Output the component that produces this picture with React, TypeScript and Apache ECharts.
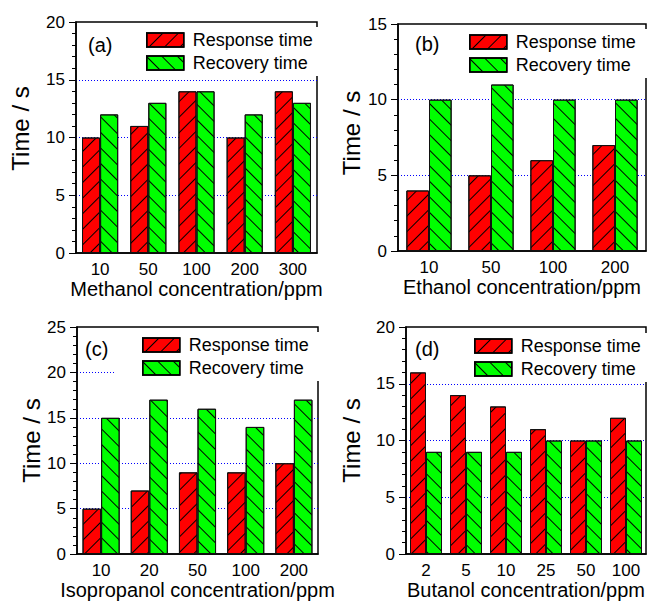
import React, { useEffect, useRef } from "react";
import * as echarts from "echarts";

const seriesNames = ["Response time", "Recovery time"];

const catsA = ["10", "50", "100", "200", "300"];
const respA = [10, 11, 14, 10, 14];
const recA = [12, 13, 14, 12, 13];

const catsB = ["10", "50", "100", "200"];
const respB = [4, 5, 6, 7];
const recB = [10, 11, 10, 10];

const catsC = ["10", "20", "50", "100", "200"];
const respC = [5, 7, 9, 9, 10];
const recC = [15, 17, 16, 14, 17];

const catsD = ["2", "5", "10", "25", "50", "100"];
const respD = [16, 14, 13, 11, 10, 12];
const recD = [9, 9, 9, 10, 10, 10];

const yMaxes = [20, 15, 25, 20];
const xNames = [
  "Methanol concentration/ppm",
  "Ethanol concentration/ppm",
  "Isopropanol concentration/ppm",
  "Butanol concentration/ppm",
];
const panelLabels = ["(a)", "(b)", "(c)", "(d)"];

const FONT = "Liberation Sans, Arial, sans-serif";

const panels = [
  { cats: catsA, resp: respA, rec: recA },
  { cats: catsB, resp: respB, rec: recB },
  { cats: catsC, resp: respC, rec: recC },
  { cats: catsD, resp: respD, rec: recD },
];

const layout = [
  { left: 76, top: 22, width: 241, height: 231, gap: "25%", nameGap: 21, yGap: 44, yPad: 18, legL: 119, legT: 27, lab: [88, 35] },
  { left: 398, top: 24, width: 248, height: 227, gap: "27%", nameGap: 24, yGap: 35, yPad: 9, legL: 442, legT: 29, lab: [415, 34] },
  { left: 77, top: 327, width: 241, height: 229, gap: "23%", nameGap: 21, yGap: 34, yPad: 0, legL: 115, legT: 332, lab: [85, 339] },
  { left: 406, top: 327, width: 240, height: 228, gap: "20%", nameGap: 26, yGap: 43, yPad: 0, legL: 447, legT: 333, lab: [415, 339] },
];

const hatch = (rot: number) => ({
  symbol: "rect",
  symbolSize: 1,
  dashArrayX: [1, 0],
  dashArrayY: [1, 10],
  rotation: rot,
  color: "#000",
});

export default function App() {
  const ref = useRef<HTMLDivElement>(null);
  useEffect(() => {
    if (!ref.current) return;
    const chart = echarts.init(ref.current, undefined, { renderer: "svg" });
    const grid: any[] = [];
    const xAxis: any[] = [];
    const yAxis: any[] = [];
    const series: any[] = [];
    const legend: any[] = [];
    const graphic: any[] = [];
    panels.forEach((p, i) => {
      const L = layout[i];
      grid.push({
        left: L.left,
        top: L.top,
        width: L.width,
        height: L.height,
        show: true,
        borderColor: "#000",
        borderWidth: 1.5,
        backgroundColor: "transparent",
      });
      xAxis.push({
        type: "category",
        gridIndex: i,
        data: p.cats,
        axisTick: { show: false },
        axisLine: { lineStyle: { color: "#000", width: 1.5 } },
        axisLabel: { fontSize: 17, color: "#000", margin: 8, fontFamily: FONT },
        name: xNames[i],
        nameLocation: "middle",
        nameGap: L.nameGap,
        nameTextStyle: { fontSize: 20, color: "#000", fontFamily: FONT, fontWeight: "normal" },
      });
      yAxis.push({
        type: "value",
        gridIndex: i,
        min: 0,
        max: yMaxes[i],
        interval: 5,
        axisLine: { show: true, lineStyle: { color: "#000", width: 1.5 } },
        axisTick: { show: true, length: 7, lineStyle: { color: "#000", width: 1 } },
        minorTick: { show: true, splitNumber: 5, length: 4, lineStyle: { color: "#000", width: 1 } },
        axisLabel: { fontSize: 17, color: "#000", margin: 11, fontFamily: FONT },
        splitLine: {
          show: true,
          showMinLine: false,
          showMaxLine: false,
          lineStyle: { color: "#0000ff", type: [1, 2], width: 1 },
        },
        name: "Time / s",
        nameLocation: "middle",
        nameGap: L.yGap,
        nameTextStyle: { fontSize: 24, color: "#000", fontFamily: FONT, fontWeight: "normal", padding: [0, 0, 0, L.yPad] },
      });
      series.push({
        type: "bar",
        name: seriesNames[0],
        xAxisIndex: i,
        yAxisIndex: i,
        data: p.resp,
        barGap: "0%",
        barCategoryGap: L.gap,
        itemStyle: { color: "#ff0000", borderColor: "#111", borderWidth: 1, decal: hatch(-Math.PI / 4) },
      });
      series.push({
        type: "bar",
        name: seriesNames[1],
        xAxisIndex: i,
        yAxisIndex: i,
        data: p.rec,
        barGap: "0%",
        barCategoryGap: L.gap,
        itemStyle: { color: "#00ff00", borderColor: "#111", borderWidth: 1, decal: hatch(Math.PI / 4) },
      });
      legend.push({
        data: seriesNames,
        orient: "vertical",
        left: L.legL,
        top: L.legT,
        icon: "rect",
        itemWidth: 37,
        itemHeight: 14,
        itemGap: 5,
        padding: [4, 13, 4, 27],
        backgroundColor: "#fff",
        itemStyle: { borderColor: "#000", borderWidth: 1.5 },
        textStyle: { fontSize: 18, color: "#000", fontFamily: FONT, lineHeight: 18, padding: [0, 0, 0, 4] },
        selectedMode: false,
      });
      graphic.push({
        type: "text",
        left: L.lab[0],
        top: L.lab[1],
        style: { text: panelLabels[i], fontSize: 20, fill: "#000", fontFamily: FONT },
        z: 100,
      });
    });
    chart.setOption({
      animation: false,
      backgroundColor: "#fff",
      grid,
      xAxis,
      yAxis,
      series,
      legend,
      graphic,
    });
    return () => chart.dispose();
  }, []);
  return (
    <div
      ref={ref}
      style={{ position: "fixed", left: 0, top: 0, width: 648, height: 601 }}
    />
  );
}
